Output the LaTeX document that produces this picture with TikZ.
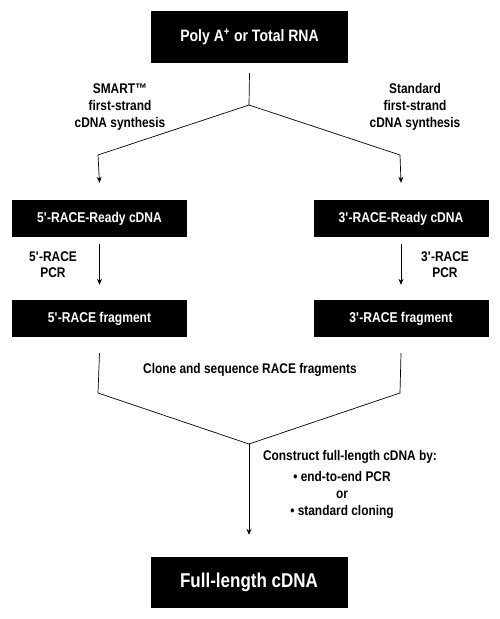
\documentclass[tikz,border=0pt]{standalone}
\usepackage{fontspec}
\setmainfont{Liberation Sans}[FakeStretch=0.85]
\usetikzlibrary{arrows.meta}
\tikzset{
  blackbox/.style={fill=black,text=white,inner sep=0pt,
    font=\bfseries\fontsize{14.2}{16}\selectfont,
    minimum width=175pt,minimum height=37pt},
  bigbox/.style={blackbox,minimum width=197pt,minimum height=52pt},
  steplabel/.style={font=\bfseries\fontsize{14}{17}\selectfont,align=center,inner sep=0pt},
  flow/.style={line width=0.7pt},
  flowarrow/.style={flow,-{Stealth[length=6pt,width=5pt]}}
}
\newcommand{\pr}{\textquotesingle}
\begin{document}
\begin{tikzpicture}[x=1pt,y=-1pt]
  \useasboundingbox (0,0) rectangle (500,619);

  %draw boxes
  \node[bigbox,font=\bfseries\fontsize{16.5}{18}\selectfont] (rna) at (249.5,37) {Poly A\textsuperscript{+} or Total RNA};
  \node[blackbox] (ready5) at (99.5,218.5) {5\pr-RACE-Ready cDNA};
  \node[blackbox] (ready3) at (401,218.5) {3\pr-RACE-Ready cDNA};
  \node[blackbox] (frag5) at (99.5,318.5) {5\pr-RACE fragment};
  \node[blackbox] (frag3) at (401,318.5) {3\pr-RACE fragment};
  \node[bigbox,minimum height=51pt,font=\bfseries\fontsize{20}{22}\selectfont] (full) at (249,582.5) {Full-length cDNA};

  %draw labels
  \node[steplabel] (smart) at (120,107) {SMART™\\first-strand\\cDNA synthesis};
  \node[steplabel] (standard) at (415,107) {Standard\\first-strand\\cDNA synthesis};
  \node[steplabel,font=\bfseries\fontsize{14}{16}\selectfont] (pcr5) at (53,265) {5\pr-RACE\\PCR};
  \node[steplabel,font=\bfseries\fontsize{14}{16}\selectfont] (pcr3) at (445,265) {3\pr-RACE\\PCR};
  \node[steplabel] (clone) at (250,370) {Clone and sequence RACE fragments};
  \node[steplabel] (construct) at (350,457) {Construct full-length cDNA by:};
  \node[steplabel] (methods) at (342,495) {• end-to-end PCR\\or\\• standard cloning};

  %draw branch points
  \coordinate (split) at (249,105);
  \coordinate (splitL) at (98,155);
  \coordinate (splitR) at (400,155);
  \coordinate (mergeL) at (98,393);
  \coordinate (mergeR) at (400,393);
  \coordinate (merge) at (249,444);

  %draw connectors
  \draw[flow] ([yshift=-10pt]rna.south) -- (split);
  \draw[flowarrow] (split) -- (splitL) -- ([yshift=17pt]ready5.north);
  \draw[flowarrow] (split) -- (splitR) -- ([yshift=17pt]ready3.north);
  \draw[flowarrow] ([yshift=-7pt]ready5.south) -- ([yshift=15pt]frag5.north);
  \draw[flowarrow] ([yshift=-7pt]ready3.south) -- ([yshift=15pt]frag3.north);
  \draw[flow] ([yshift=-16pt]frag5.south) -- (mergeL) -- (merge);
  \draw[flow] ([yshift=-16pt]frag3.south) -- (mergeR) -- (merge);
  \draw[flowarrow] (merge) -- ([yshift=22pt]full.north);
\end{tikzpicture}
\end{document}
